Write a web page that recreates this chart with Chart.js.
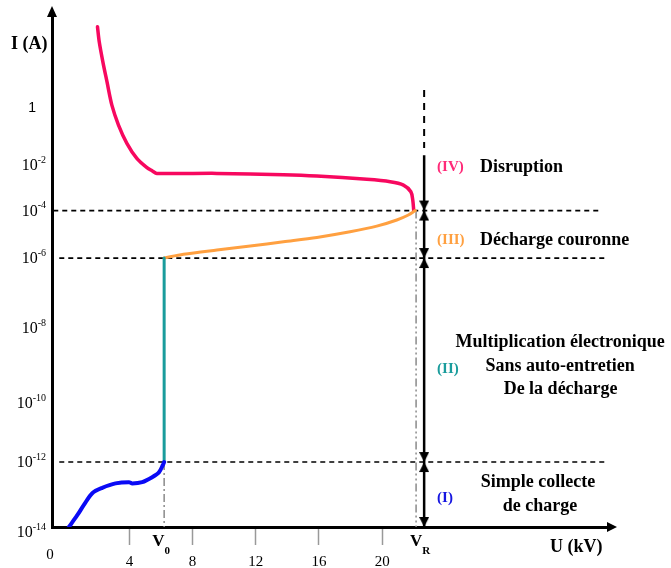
<!DOCTYPE html>
<html>
<head>
<meta charset="utf-8">
<script src="https://cdn.jsdelivr.net/npm/chart.js@4/dist/chart.umd.min.js"></script>
<style>
  html, body { margin: 0; padding: 0; background: #fff; }
  #wrap { width: 671px; height: 568px; }
</style>
</head>
<body>
<div id="wrap"><canvas id="c"></canvas></div>
<script>
// axis ticks
const xTicks = [4, 8, 12, 16, 20];
const yTickExps = [-14, -12, -10, -8, -6, -4, -2, 0];

// characteristic voltages (kV)
const V0 = 6.2;
const VR = 22.15;
const arrowU = 22.66;

// regime boundaries (A)
const levels = [1e-4, 1e-6, 1e-12];

// (I) simple collecte de charge
const blueU = [0.17, 0.70, 1.12, 1.65, 2.28, 3.12, 3.97, 4.18, 4.81, 5.44, 5.87, 6.12, 6.2];
const blueI = [1e-14, 2.3e-14, 4.8e-14, 1.1e-13, 1.6e-13, 2.2e-13, 2.4e-13, 2.2e-13, 2.4e-13, 3.4e-13, 4.8e-13, 8.1e-13, 1e-12];

// (II) multiplication electronique
const tealU = [6.2, 6.2];
const tealI = [1e-12, 1e-6];

// (III) decharge couronne
const orangeU = [6.2, 7.42, 9.54, 11.65, 13.75, 15.87, 17.97, 19.66, 20.93, 21.66, 22.1];
const orangeI = [1e-6, 1.43e-6, 2.17e-6, 3.2e-6, 4.85e-6, 7.4e-6, 1.28e-5, 2.2e-5, 4.0e-5, 6.5e-5, 1e-4];

// (IV) disruption
const pinkU = [22.0, 21.94, 21.82, 21.35, 20.51, 19.03, 15.87, 13.75, 9.54, 5.74, 5.45, 5.11, 4.47, 3.84, 3.31, 2.89, 2.58, 2.32, 2.09, 1.98];
const pinkI = [1e-4, 2.9e-4, 6.7e-4, 1.32e-3, 1.85e-3, 2.35e-3, 3.28e-3, 3.75e-3, 4.3e-3, 4.3e-3, 5.5e-3, 7.7e-3, 1.72e-2, 5.8e-2, 0.254, 1.27, 8.4, 42, 212, 710];

const zip = (xs, ys) => xs.map((v, i) => ({ x: v, y: ys[i] }));

// log scale whose decades are not all the same height (hand drawn figure)
const LogBase = Chart.LogarithmicScale || Chart.registry.getScale('logarithmic');
class WarpedLog extends LogBase {
  toU(v) {
    const e = Math.log10(v), w = this.options.warp;
    let i = 1;
    while (i < w.length - 1 && e > w[i][0]) i++;
    const [e0, u0] = w[i - 1], [e1, u1] = w[i];
    return u0 + (e - e0) * (u1 - u0) / (e1 - e0);
  }
  fromU(u) {
    const w = this.options.warp;
    let i = 1;
    while (i < w.length - 1 && u > w[i][1]) i++;
    const [e0, u0] = w[i - 1], [e1, u1] = w[i];
    return Math.pow(10, e0 + (u - u0) * (e1 - e0) / (u1 - u0));
  }
  getPixelForValue(v) {
    if (v === undefined || v === null || isNaN(v) || v <= 0) return NaN;
    const a = this.toU(this.min), b = this.toU(this.max);
    return this.getPixelForDecimal((this.toU(v) - a) / (b - a));
  }
  getValueForPixel(p) {
    const a = this.toU(this.min), b = this.toU(this.max);
    return this.fromU(a + this.getDecimalForPixel(p) * (b - a));
  }
}
WarpedLog.id = 'warpedLog';
WarpedLog.defaults = LogBase.defaults;
Chart.register(WarpedLog);

function arrowHead(up, down) {
  const c = document.createElement('canvas');
  c.width = 10; c.height = 24;
  const g = c.getContext('2d');
  g.fillStyle = '#000';
  if (down) { g.beginPath(); g.moveTo(0, 2); g.lineTo(10, 2); g.lineTo(5, 12); g.closePath(); g.fill(); }
  if (up) { g.beginPath(); g.moveTo(0, 22); g.lineTo(10, 22); g.lineTo(5, 12); g.closePath(); g.fill(); }
  return c;
}
const bowtie = arrowHead(true, true);
const downHead = arrowHead(false, true);

const curve = (data, color, width) => ({
  data, borderColor: color, borderWidth: width, pointRadius: 0,
  showLine: true, fill: false, tension: 0.3,
  borderCapStyle: 'round', borderJoinStyle: 'round'
});
const guide = (data, color, width, dash) => ({
  data, borderColor: color, borderWidth: width, borderDash: dash,
  pointRadius: 0, showLine: true, fill: false, tension: 0
});

const serif = '"Liberation Serif", "Times New Roman", serif';

// texts written on the figure, placed in data units
const notes = [
  { t: '(IV)', x: 23.48, y: 8.1e-3, c: '#ff2a78', a: 'left', s: 15 },
  { t: 'Disruption', x: 26.2, y: 8.1e-3, c: '#000', a: 'left', s: 18 },
  { t: '(III)', x: 23.48, y: 5.7e-6, c: '#ffa040', a: 'left', s: 15 },
  { t: 'Décharge couronne', x: 26.2, y: 5.7e-6, c: '#000', a: 'left', s: 18 },
  { t: 'Multiplication électronique', x: 31.27, y: 4.2e-9, c: '#000', a: 'center', s: 18 },
  { t: 'Sans auto-entretien', x: 31.27, y: 9.8e-10, c: '#000', a: 'center', s: 18 },
  { t: 'De la décharge', x: 31.3, y: 2.35e-10, c: '#000', a: 'center', s: 18 },
  { t: '(II)', x: 23.48, y: 8.1e-10, c: '#1a9c9c', a: 'left', s: 15 },
  { t: 'Simple collecte', x: 29.87, y: 2.4e-13, c: '#000', a: 'center', s: 18 },
  { t: 'de charge', x: 30.0, y: 4.4e-14, c: '#000', a: 'center', s: 18 },
  { t: '(I)', x: 23.48, y: 7.8e-14, c: '#1515e0', a: 'left', s: 15 }
];

const overlay = {
  id: 'overlay',
  afterDraw(chart) {
    const { ctx, chartArea: a, scales: { x, y } } = chart;
    ctx.save();
    ctx.fillStyle = '#000';
    // axis arrow heads
    ctx.beginPath();
    ctx.moveTo(a.left - 5, a.top + 1); ctx.lineTo(a.left + 5, a.top + 1); ctx.lineTo(a.left, a.top - 10);
    ctx.closePath(); ctx.fill();
    ctx.beginPath();
    ctx.moveTo(a.right - 1, a.bottom - 5); ctx.lineTo(a.right - 1, a.bottom + 5); ctx.lineTo(a.right + 9, a.bottom);
    ctx.closePath(); ctx.fill();

    // y tick labels with superscript exponents
    ctx.textBaseline = 'middle';
    yTickExps.forEach(e => {
      let py = y.getPixelForValue(Math.pow(10, e));
      if (e === -14) py += 5;
      if (e === 0) {
        ctx.font = '14px "Liberation Sans", Arial, sans-serif';
        ctx.textAlign = 'right';
        ctx.fillText('1', 36, py);
        return;
      }
      const exp = String(e);
      ctx.font = '10px ' + serif;
      const ew = ctx.measureText(exp).width;
      const right = 46;
      ctx.textAlign = 'left';
      ctx.fillText(exp, right - ew, py - 5);
      ctx.font = '16px ' + serif;
      ctx.textAlign = 'right';
      ctx.fillText('10', right - ew, py + 1);
    });
    ctx.font = '15px ' + serif;
    ctx.textAlign = 'center';
    ctx.fillText('0', a.left - 2, a.bottom + 28);

    // axis titles
    ctx.font = 'bold 18px ' + serif;
    ctx.textAlign = 'left';
    ctx.fillText('I (A)', 11, 44);
    ctx.fillText('U (kV)', 550, a.bottom + 20);

    // V0 and VR
    const sub = (main, s, px) => {
      ctx.font = 'bold 17px ' + serif;
      const w1 = ctx.measureText(main).width;
      ctx.font = 'bold 11px ' + serif;
      const w2 = ctx.measureText(s).width;
      const left = px - (w1 + w2) / 2;
      ctx.textAlign = 'left';
      ctx.font = 'bold 17px ' + serif;
      ctx.fillText(main, left, a.bottom + 15);
      ctx.font = 'bold 11px ' + serif;
      ctx.fillText(s, left + w1, a.bottom + 24);
    };
    sub('V', '0', x.getPixelForValue(V0) - 3);
    sub('V', 'R', x.getPixelForValue(VR) + 4);

    // regime descriptions
    notes.forEach(n => {
      ctx.font = 'bold ' + n.s + 'px ' + serif;
      ctx.fillStyle = n.c;
      ctx.textAlign = n.a;
      ctx.fillText(n.t, x.getPixelForValue(n.x), y.getPixelForValue(n.y));
    });
    ctx.restore();
  }
};

new Chart(document.getElementById('c'), {
  type: 'scatter',
  data: {
    datasets: [
      curve(zip(blueU, blueI), '#0a0af5', 4),
      curve(zip(tealU, tealI), '#1a9c9c', 3),
      curve(zip(orangeU, orangeI), '#ffa040', 3),
      curve(zip(pinkU, pinkI), '#f7085f', 3.5),
      {
        data: levels.map(v => ({ x: arrowU, y: v })),
        pointStyle: bowtie, pointRadius: 5, showLine: false
      },
      {
        data: [{ x: arrowU, y: 1e-14 }],
        pointStyle: downHead, pointRadius: 5, showLine: false
      },
      guide([{ x: arrowU, y: 0.022 }, { x: arrowU, y: 1e-14 }], '#000', 2.5, []),
      guide([{ x: arrowU, y: 4.3 }, { x: arrowU, y: 0.04 }], '#000', 2, [7, 6]),
      guide([{ x: V0, y: 1e-12 }, { x: V0, y: 1e-14 }], '#8a8a8a', 1.5, [8, 3, 2, 3]),
      guide([{ x: VR, y: 1e-4 }, { x: VR, y: 1e-14 }], '#8a8a8a', 1.5, [8, 3, 2, 3, 2, 3]),
      guide([{ x: -0.82, y: levels[0] }, { x: 33.7, y: levels[0] }], '#000', 1.8, [5, 4]),
      guide([{ x: -0.44, y: levels[1] }, { x: 34.3, y: levels[1] }], '#000', 1.8, [5, 4]),
      guide([{ x: -0.44, y: levels[2] }, { x: 34.3, y: levels[2] }], '#000', 1.5, [5, 4])
    ]
  },
  options: {
    responsive: true,
    maintainAspectRatio: false,
    animation: false,
    layout: { padding: { top: 16, right: 63, left: 0, bottom: 0 } },
    plugins: { legend: { display: false }, tooltip: { enabled: false } },
    scales: {
      x: {
        type: 'linear',
        min: -0.9,
        max: 34.3,
        afterBuildTicks: axis => { axis.ticks = xTicks.map(v => ({ value: v })); },
        afterFit: axis => { axis.height = 41; },
        ticks: { color: '#000', padding: 8, font: { family: serif, size: 15 } },
        grid: { drawOnChartArea: false, drawTicks: true, tickLength: 18, tickColor: '#999', tickWidth: 1.5 },
        border: { display: true, color: '#000', width: 3 }
      },
      y: {
        type: 'warpedLog',
        min: 1e-14,
        max: 1700,
        warp: [[-14, 0], [-12, 65], [-10, 124], [-8, 199], [-6, 269], [-4, 316.5], [-2, 362], [0, 419], [2, 476], [4, 533]],
        afterBuildTicks: axis => { axis.ticks = yTickExps.map(e => ({ value: Math.pow(10, e) })); },
        afterFit: axis => { axis.width = 52; },
        ticks: { display: false },
        grid: { drawOnChartArea: false, drawTicks: false },
        border: { display: true, color: '#000', width: 3 }
      }
    }
  },
  plugins: [overlay]
});
</script>
</body>
</html>
